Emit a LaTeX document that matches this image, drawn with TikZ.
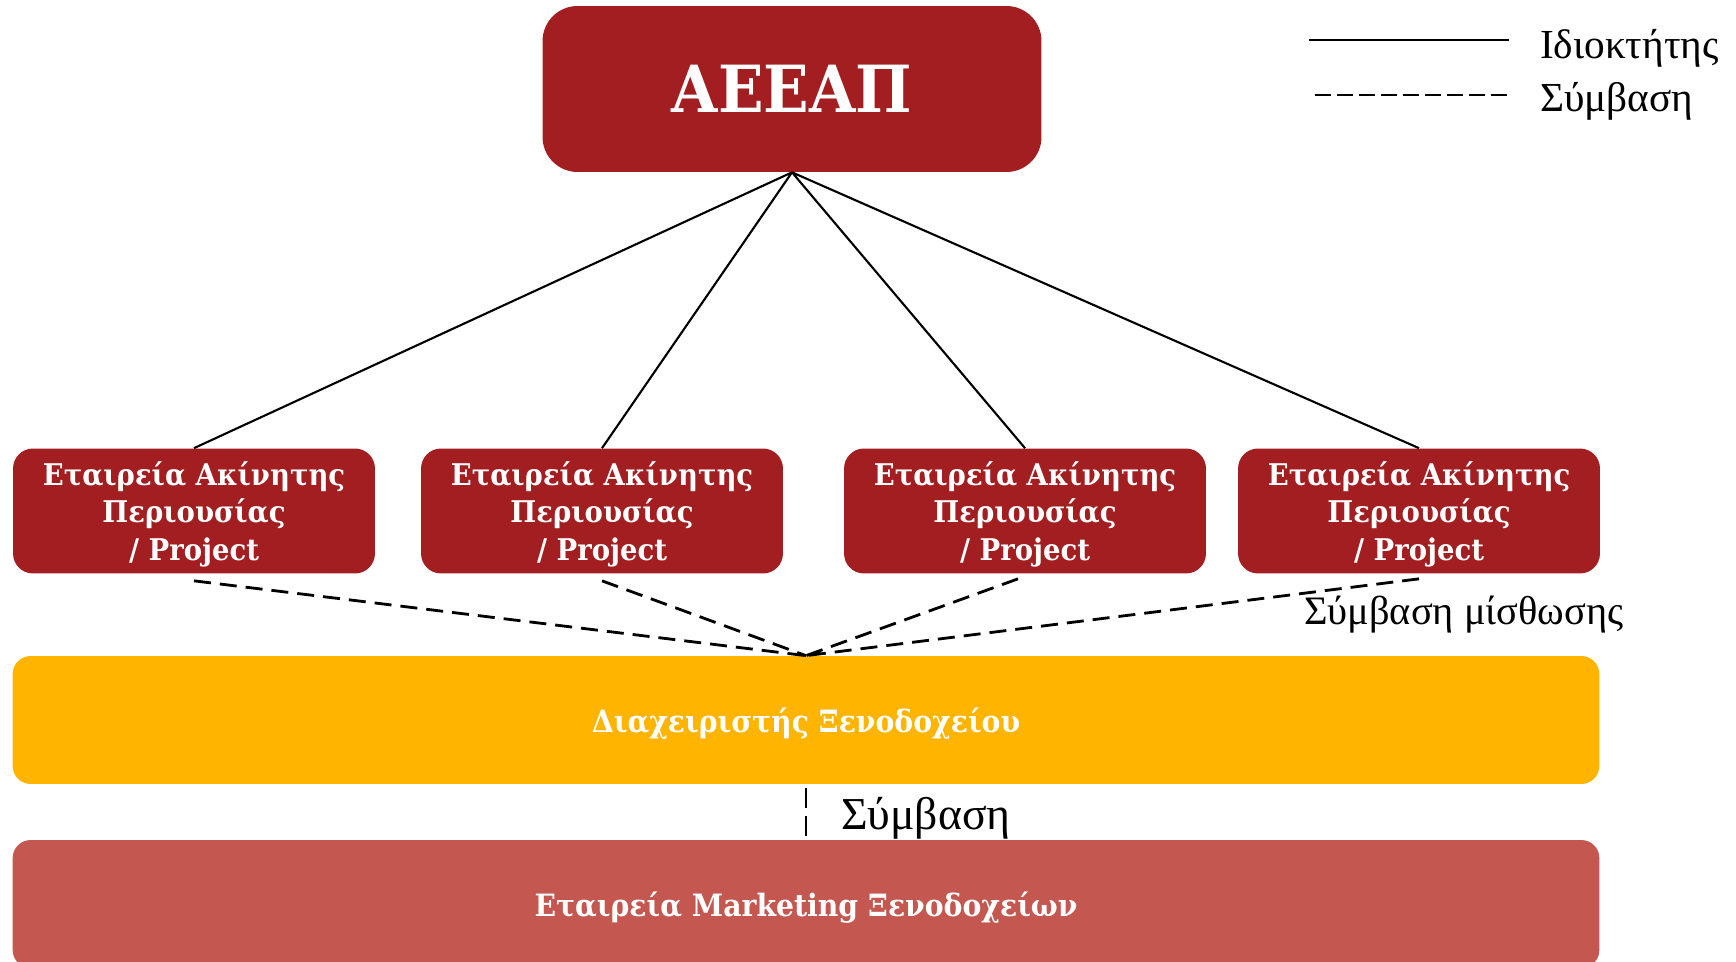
\documentclass[tikz,border=0pt]{standalone}
\usepackage{fontspec}
\setmainfont{Liberation Serif}
\newfontfamily\boxfont[FakeStretch=0.92]{DejaVu Serif}
\definecolor{darkred}{RGB}{162,30,33}
\definecolor{hotelyellow}{RGB}{255,180,0}
\definecolor{softred}{RGB}{196,87,80}

\begin{document}
\begin{tikzpicture}[x=0.02cm,y=-0.02cm]
            \tikzset{
            top node/.style={rectangle,rounded corners=0.7cm,fill=darkred,text=white,
                minimum width=9.98cm,minimum height=3.32cm,font=\boxfont\bfseries\fontsize{37}{40}\selectfont},
            asset node/.style={rectangle,rounded corners=0.4cm,fill=darkred,text=white,align=center,
                minimum width=7.24cm,minimum height=2.5cm,inner sep=0,text depth=0pt,
                font=\boxfont\bfseries\fontsize{17}{21.5}\selectfont},
            wide node/.style={rectangle,rounded corners=0.36cm,text=white,text depth=0pt,
                minimum width=31.74cm,minimum height=2.56cm,font=\boxfont\bfseries\fontsize{17.5}{21.5}\selectfont},
            own edge/.style={draw,line width=1.2pt},
            lease edge/.style={draw,line width=1.6pt,dash pattern=on 0.34cm off 0.18cm}
            }
            \useasboundingbox (0,0) rectangle (1736,962);

            \node[top node] (aeeap) at (792,89) {ΑΕΕΑΠ};
            \node[asset node] (p1) at (194,511) {Εταιρεία Ακίνητης\\Περιουσίας\\/ Project};
            \node[asset node] (p2) at (602,511) {Εταιρεία Ακίνητης\\Περιουσίας\\/ Project};
            \node[asset node] (p3) at (1025,511) {Εταιρεία Ακίνητης\\Περιουσίας\\/ Project};
            \node[asset node] (p4) at (1419,511) {Εταιρεία Ακίνητης\\Περιουσίας\\/ Project};
            \node[wide node,fill=hotelyellow] (manager) at (806,720) {Διαχειριστής Ξενοδοχείου};
            \node[wide node,fill=softred] (marketing) at (806,904) {Εταιρεία Marketing Ξενοδοχείων};

            % ownership
            \path[own edge]
            (aeeap.south) -- (p1.north)
            (aeeap.south) -- (p2.north)
            (aeeap.south) -- (p3.north)
            (aeeap.south) -- (p4.north)
            ;
            % lease contracts
            \path[lease edge]
            ([yshift=-0.14cm]p1.south) -- (manager.north)
            ([yshift=-0.14cm]p2.south) -- (manager.north)
            ([xshift=-0.14cm,yshift=-0.1cm]p3.south) -- (manager.north)
            ([yshift=-0.1cm]p4.south) -- (manager.north)
            ;
            \path[draw,line width=1.4pt,dash pattern=on 0.4cm off 0.16cm]
            ([yshift=-0.08cm]manager.south) -- (marketing.north);

            \node[anchor=west,font=\fontsize{23}{26}\selectfont] (lease) at (1298,615) {Σύμβαση μίσθωσης};
            \node[anchor=west,font=\fontsize{26}{30}\selectfont] (contract) at (835,818) {Σύμβαση};

            % legend
            \coordinate (own a) at (1309,40);
            \coordinate (own b) at (1509,40);
            \coordinate (con a) at (1315,95);
            \coordinate (con b) at (1512,95);
            \path[draw,line width=1.4pt] (own a) -- (own b);
            \path[draw,line width=1.5pt,dash pattern=on 0.32cm off 0.12cm] (con a) -- (con b);
            \node[anchor=west,font=\fontsize{23.5}{26}\selectfont] (own text) at (1534,48) {Ιδιοκτήτης};
            \node[anchor=west,font=\fontsize{23.5}{26}\selectfont] (con text) at (1534,101) {Σύμβαση};
        \end{tikzpicture}
\end{document}
